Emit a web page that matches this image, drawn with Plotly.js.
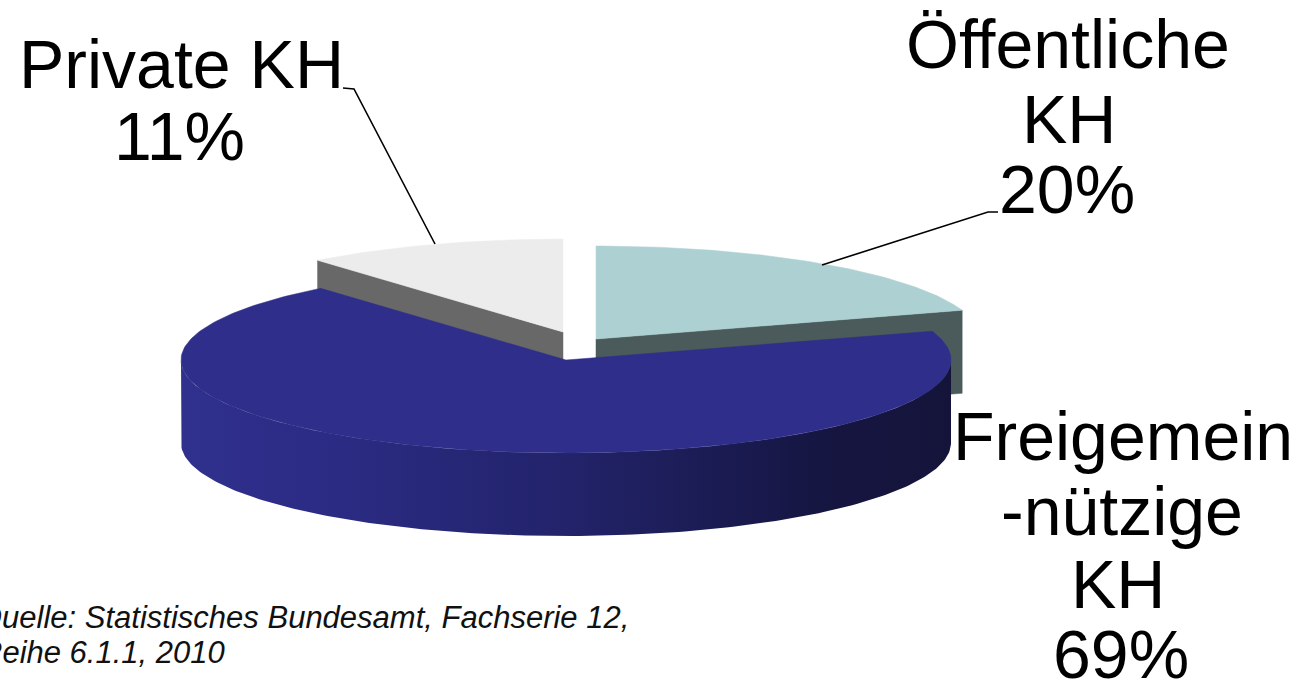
<!DOCTYPE html>
<html>
<head>
<meta charset="utf-8">
<script src="https://cdn.plot.ly/plotly-3.0.1.min.js"></script>
<style>html,body{margin:0;padding:0;background:#fff;}#chart{width:1303px;height:684px;}</style>
</head>
<body>
<div id="chart"></div>
<script>
// ---- data ----
const categories = ['Öffentliche KH', 'Freigemeinnützige KH', 'Private KH'];
const shares = [20, 69, 11];
const labelLines = [['Öffentliche', 'KH'], ['Freigemein', '-nützige', 'KH'], ['Private KH']];
const sourceLines = ['Quelle: Statistisches Bundesamt, Fachserie 12,', 'Reihe 6.1.1, 2010'];

// ---- style / layout ----
const CX = 566, CY = 360, RX = 385, RY = 93, DEPTH = 83;
const explode = [[30, -21], [0, 0], [-3, -28]];
const topColors = ['#add0d2', '#2f2f8b', '#ececec'];
const sideColors = ['#4b5b5b', '#272775', '#686868'];
const wallGradient = [[0, '#30308e'], [0.2, '#2b2b84'], [0.5, '#22236a'], [0.85, '#151540'], [1, '#14143b']];
const labelX = [[1068, 1069, 1067], [1123, 1122, 1118, 1121], [181, 179]];
const labelBase = [[68, 143, 213], [460, 535, 608, 678], [88, 160]];
const FS = 68;
const leaders = [
  {x: [998, 988, 822], y: [212, 212, 265]},
  null,
  {x: [343, 354, 435], y: [88, 89, 244]}
];

const total = shares.reduce((a, b) => a + b, 0);
const starts = [], ends = [];
let acc = 0;
shares.forEach(s => { starts.push(acc / total * 360); acc += s; ends.push(acc / total * 360); });

const rad = d => d * Math.PI / 180;
function P(a, ox, oy, dz) {
  return [CX + ox + RX * Math.sin(rad(a)), CY + oy - RY * Math.cos(rad(a)) + dz];
}
function arc(a0, a1, ox, oy, dz) {
  const pts = [];
  const n = Math.max(2, Math.ceil(Math.abs(a1 - a0)));
  for (let i = 0; i <= n; i++) pts.push(P(a0 + (a1 - a0) * i / n, ox, oy, dz));
  return pts;
}
function poly(pts, color, grad) {
  const t = {
    type: 'scatter', mode: 'lines', x: pts.map(p => p[0]).concat([pts[0][0]]),
    y: pts.map(p => p[1]).concat([pts[0][1]]), fill: 'toself', fillcolor: color,
    line: {width: 0.5, color: color}, hoverinfo: 'skip', showlegend: false
  };
  if (grad) { t.fillgradient = {type: 'horizontal', colorscale: grad}; t.line = {width: 0, color: 'rgba(0,0,0,0)'}; }
  return t;
}
const norm = a => ((a % 360) + 360) % 360;
const inFront = a => { const n = norm(a); return n > 91 && n < 269; };

const order = shares.map((_, i) => i).sort((a, b) => explode[a][1] - explode[b][1]);
const traces = [];
order.forEach(i => {
  const [ox, oy] = explode[i];
  const a0 = starts[i], a1 = ends[i];
  // outer wall (front half)
  const w0 = Math.max(a0, 90), w1 = Math.min(a1, 270);
  if (w1 > w0) {
    const pts = arc(w0, w1, ox, oy, 0).concat(arc(w1, w0, ox, oy, DEPTH));
    traces.push(poly(pts, sideColors[i], i === 1 ? wallGradient : null));
  }
  // radial faces
  const apexT = [CX + ox, CY + oy], apexB = [CX + ox, CY + oy + DEPTH];
  if (inFront(a0 - 90)) traces.push(poly([apexT, P(a0, ox, oy, 0), P(a0, ox, oy, DEPTH), apexB], sideColors[i]));
  if (inFront(a1 + 90)) traces.push(poly([apexT, P(a1, ox, oy, 0), P(a1, ox, oy, DEPTH), apexB], sideColors[i]));
  // top
  traces.push(poly([apexT].concat(arc(a0, a1, ox, oy, 0)), topColors[i]));
});

// leader lines
leaders.forEach(l => { if (l) traces.push({type: 'scatter', mode: 'lines', x: l.x, y: l.y,
  line: {color: '#000', width: 1.6}, hoverinfo: 'skip', showlegend: false}); });

const annotations = [];
const font = {family: 'Liberation Sans, Arial, sans-serif', size: FS, color: '#000'};
categories.forEach((c, i) => {
  const lines = labelLines[i].concat([shares[i] + '%']);
  lines.forEach((t, j) => {
    annotations.push({text: t, x: labelX[i][j], y: labelBase[i][j] - 0.347 * FS, xref: 'x', yref: 'y',
      xanchor: 'center', yanchor: 'middle', showarrow: false, font: font});
  });
});
const srcFont = {family: 'Liberation Sans, Arial, sans-serif', size: 31, color: '#111', style: 'italic'};
const srcBase = [628, 663], srcShift = [-24, -22];
sourceLines.forEach((t, j) => {
  annotations.push({text: '<i>' + t + '</i>', x: 0, xshift: srcShift[j], y: srcBase[j] - 10.5, xref: 'paper', yref: 'y',
    xanchor: 'left', yanchor: 'middle', showarrow: false, font: srcFont});
});

const layout = {
  width: 1303, height: 684, margin: {l: 0, r: 0, t: 0, b: 0},
  paper_bgcolor: '#fff', plot_bgcolor: '#fff', showlegend: false,
  xaxis: {range: [0, 1303], visible: false, fixedrange: true},
  yaxis: {range: [684, 0], visible: false, fixedrange: true},
  annotations: annotations
};
Plotly.newPlot('chart', traces, layout, {displayModeBar: false, staticPlot: true});
</script>
</body>
</html>
